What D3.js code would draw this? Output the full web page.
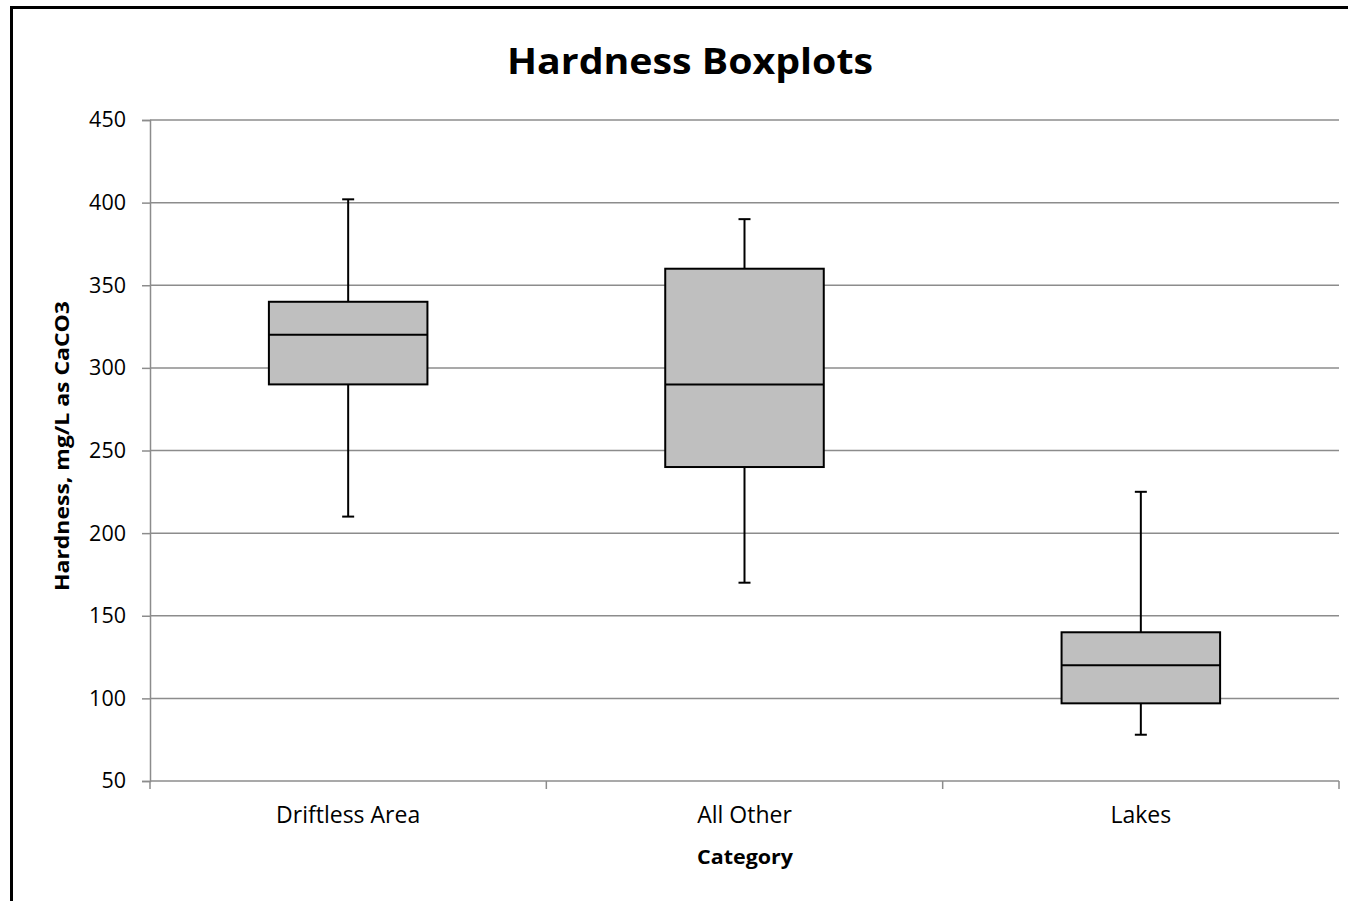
<!DOCTYPE html>
<html>
<head>
<meta charset="utf-8">
<script src="https://cdn.jsdelivr.net/npm/d3@7"></script>
<style>
  html, body { margin: 0; padding: 0; background: #fff; }
  svg { display: block; }
</style>
</head>
<body>
<svg id="chart" width="1348" height="901"></svg>
<script>
// Hardness summary statistics per category (mg/L as CaCO3)
const categories = ["Driftless Area", "All Other", "Lakes"];
const whiskerLow = [210, 170, 78];
const q1 = [290, 240, 97];
const median = [320, 290, 120];
const q3 = [340, 360, 140];
const whiskerHigh = [402, 390, 225];
const yTicks = [50, 100, 150, 200, 250, 300, 350, 400, 450];

const svg = d3.select("#chart");
const font = "Open Sans, 'Liberation Sans', sans-serif";

// Outer frame (extends past the right and bottom edges)
svg.append("rect")
  .attr("x", 11.5).attr("y", 7.5)
  .attr("width", 1400).attr("height", 1000)
  .attr("fill", "none").attr("stroke", "#000").attr("stroke-width", 3);

const plot = { left: 150, right: 1339, top: 120, bottom: 781 };

const x = d3.scaleBand().domain(categories)
  .range([plot.left, plot.right]).paddingInner(0).paddingOuter(0);
const y = d3.scaleLinear().domain([50, 450]).range([plot.bottom, plot.top]);

const gridColor = "#8c8c8c";

// Horizontal gridlines
svg.append("g").selectAll("line").data(yTicks.slice(1)).join("line")
  .attr("x1", plot.left).attr("x2", plot.right)
  .attr("y1", d => y(d)).attr("y2", d => y(d))
  .attr("stroke", gridColor).attr("stroke-width", 1.5);

// Y axis
const yAxis = svg.append("g").attr("transform", `translate(${plot.left},0)`)
  .call(d3.axisLeft(y).tickValues(yTicks).tickSize(8).tickPadding(16));
yAxis.select(".domain").attr("stroke", gridColor).attr("stroke-width", 1.5);
yAxis.selectAll(".tick line").attr("stroke", gridColor).attr("stroke-width", 1.5);
yAxis.selectAll(".tick text").attr("font-family", font).attr("font-size", 21.5)
  .attr("fill", "#000");

// X axis: baseline with ticks on the category boundaries
const xAxisG = svg.append("g").attr("transform", `translate(0,${plot.bottom})`);
xAxisG.append("line").attr("x1", plot.left).attr("x2", plot.right)
  .attr("stroke", gridColor).attr("stroke-width", 1.5);
const boundaries = categories.map(c => x(c)).concat([x(categories[categories.length - 1]) + x.bandwidth()]);
xAxisG.selectAll("line.tick").data(boundaries).join("line")
  .attr("class", "tick")
  .attr("x1", d => d).attr("x2", d => d).attr("y1", 0).attr("y2", 8)
  .attr("stroke", gridColor).attr("stroke-width", 1.5);
xAxisG.selectAll("text").data(categories).join("text")
  .attr("x", d => x(d) + x.bandwidth() / 2).attr("y", 42)
  .attr("text-anchor", "middle")
  .attr("font-family", font).attr("font-size", 23).attr("fill", "#000")
  .text(d => d);

// Boxplots
const boxW = x.bandwidth() * 0.4;
const capW = 12;
const g = svg.append("g");
categories.forEach((c, i) => {
  const cx = x(c) + x.bandwidth() / 2;
  // whiskers
  g.append("line").attr("x1", cx).attr("x2", cx)
    .attr("y1", y(whiskerHigh[i])).attr("y2", y(q3[i]))
    .attr("stroke", "#000").attr("stroke-width", 2);
  g.append("line").attr("x1", cx).attr("x2", cx)
    .attr("y1", y(q1[i])).attr("y2", y(whiskerLow[i]))
    .attr("stroke", "#000").attr("stroke-width", 2);
  [whiskerHigh[i], whiskerLow[i]].forEach(v => {
    g.append("line").attr("x1", cx - capW / 2).attr("x2", cx + capW / 2)
      .attr("y1", y(v)).attr("y2", y(v))
      .attr("stroke", "#000").attr("stroke-width", 2);
  });
  // box
  g.append("rect")
    .attr("x", cx - boxW / 2).attr("width", boxW)
    .attr("y", y(q3[i])).attr("height", y(q1[i]) - y(q3[i]))
    .attr("fill", "#bfbfbf").attr("stroke", "#000").attr("stroke-width", 2);
  // median
  g.append("line").attr("x1", cx - boxW / 2).attr("x2", cx + boxW / 2)
    .attr("y1", y(median[i])).attr("y2", y(median[i]))
    .attr("stroke", "#000").attr("stroke-width", 2);
});

// Title
svg.append("text")
  .attr("x", 690).attr("y", 74)
  .attr("text-anchor", "middle")
  .attr("font-family", font).attr("font-weight", "bold").attr("font-size", 36)
  .attr("textLength", 366).attr("lengthAdjust", "spacingAndGlyphs")
  .attr("fill", "#000")
  .text("Hardness Boxplots");

// Axis titles
svg.append("text")
  .attr("x", 745).attr("y", 864)
  .attr("text-anchor", "middle")
  .attr("font-family", font).attr("font-weight", "bold").attr("font-size", 20)
  .attr("textLength", 96).attr("lengthAdjust", "spacingAndGlyphs")
  .attr("fill", "#000")
  .text("Category");

svg.append("text")
  .attr("transform", "translate(69,446) rotate(-90)")
  .attr("text-anchor", "middle")
  .attr("font-family", font).attr("font-weight", "bold").attr("font-size", 20)
  .attr("textLength", 290).attr("lengthAdjust", "spacingAndGlyphs")
  .attr("fill", "#000")
  .text("Hardness, mg/L as CaCO3");
</script>
</body>
</html>
